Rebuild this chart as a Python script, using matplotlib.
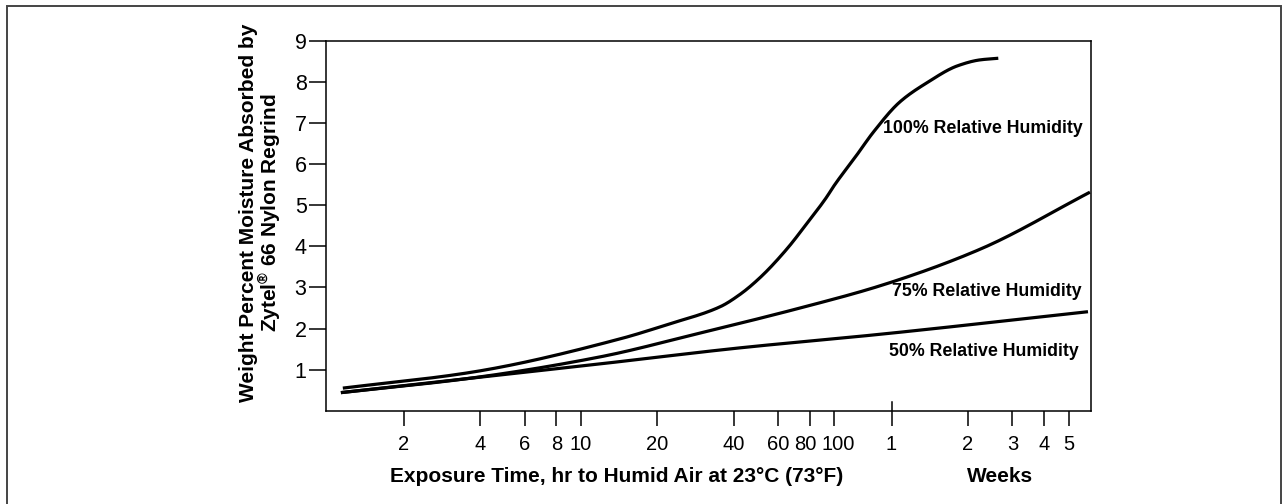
import numpy as np
import matplotlib
matplotlib.use('Agg')
import matplotlib.pyplot as plt
import matplotlib.transforms as mtransforms
from matplotlib.patches import Rectangle

plt.rcParams['font.family'] = ['Liberation Sans', 'DejaVu Sans']
plt.rcParams['mathtext.fontset'] = 'custom'
plt.rcParams['mathtext.rm'] = 'Liberation Sans:bold'

# curves (hours vs weight %)
hours_100 = [1.15, 3.65, 14.3, 22.0, 35.4, 42.4, 50.9, 64.8, 77.7, 93.2, 99.0,
             122.4, 142.4, 181.5, 231.3, 307.3, 375.0, 443.2]
moist_100 = [0.55, 0.93, 1.75, 2.10, 2.53, 2.83, 3.24, 3.93, 4.55, 5.20, 5.45,
             6.22, 6.78, 7.52, 7.98, 8.40, 8.54, 8.58]

hours_75 = [1.13, 3.65, 11.9, 29.5, 73.2, 151.3, 375.3, 1019]
moist_75 = [0.44, 0.79, 1.31, 1.89, 2.50, 3.04, 3.93, 5.32]

hours_50 = [1.13, 3.65, 11.9, 42.4, 151.3, 1001]
moist_50 = [0.44, 0.79, 1.14, 1.53, 1.86, 2.41]

hr_ticks = [2, 4, 6, 8, 10, 20, 40, 60, 80, 100]
week_ticks = [1, 2, 3, 4, 5]
y_ticks = [1, 2, 3, 4, 5, 6, 7, 8, 9]

labels = ['100% Relative Humidity', '75% Relative Humidity', '50% Relative Humidity']
label_pos = [(155.4, 6.86), (168.7, 2.91), (164.2, 1.44)]


def smooth(xs, ys, n=30):
    # monotone cubic (Fritsch-Carlson) through the read points, in log-x space
    x = np.log10(np.asarray(xs, float))
    y = np.asarray(ys, float)
    d = np.diff(y) / np.diff(x)
    m = np.zeros_like(y)
    m[0], m[-1] = d[0], d[-1]
    for i in range(1, len(y) - 1):
        if d[i - 1] * d[i] <= 0:
            m[i] = 0
        else:
            w1 = 2 * (x[i + 1] - x[i]) + (x[i] - x[i - 1])
            w2 = (x[i + 1] - x[i]) + 2 * (x[i] - x[i - 1])
            m[i] = (w1 + w2) / (w1 / d[i - 1] + w2 / d[i])
    px, py = [], []
    for i in range(len(x) - 1):
        h = x[i + 1] - x[i]
        t = np.linspace(0, 1, n, endpoint=False)
        h00 = 2 * t**3 - 3 * t**2 + 1
        h10 = t**3 - 2 * t**2 + t
        h01 = -2 * t**3 + 3 * t**2
        h11 = t**3 - t**2
        px.append(x[i] + t * h)
        py.append(h00 * y[i] + h10 * h * m[i] + h01 * y[i + 1] + h11 * h * m[i + 1])
    px.append([x[-1]])
    py.append([y[-1]])
    return 10 ** np.concatenate(px), np.concatenate(py)


fig = plt.figure(figsize=(12.85, 5.04), dpi=100)
ax = fig.add_axes([326 / 1285, 1 - 410.7 / 504, (1090.7 - 326) / 1285, (410.7 - 41) / 504])

for h, m in [(hours_100, moist_100), (hours_75, moist_75), (hours_50, moist_50)]:
    sx, sy = smooth(h, m)
    ax.plot(sx, sy, color='black', lw=2.3, solid_capstyle='butt')

ax.set_xscale('log')
ax.set_xlim(0.987, 1026)
ax.set_ylim(0, 9)

xt = hr_ticks + [w * 168 for w in week_ticks]
xl = [str(t) for t in hr_ticks] + [str(w) for w in week_ticks]
ax.set_xticks(xt)
ax.set_xticklabels(xl)
ax.xaxis.set_minor_locator(matplotlib.ticker.NullLocator())
ax.set_yticks(y_ticks)
ax.set_yticklabels([str(t) for t in y_ticks])

ax.tick_params(axis='x', direction='out', length=11, width=1.1, pad=6.5, labelsize=14.5)
ax.tick_params(axis='y', direction='out', length=12, width=1.1, pad=2, labelsize=15.5)
for s in ax.spines.values():
    s.set_linewidth(1.1)

# nudge the crowded 80 / 100 labels apart a little
for lab in ax.get_xticklabels():
    shift = {'80': -3, '100': 3}.get(lab.get_text(), 0)
    if shift:
        lab.set_transform(lab.get_transform() +
                          mtransforms.ScaledTranslation(shift / 72, 0, fig.dpi_scale_trans))

# the 1 week tick crosses the axis line
ax.axvline(168, ymin=0, ymax=0.024, color='black', lw=1.1)

for txt, (x, y) in zip(labels, label_pos):
    ax.text(x, y, txt, ha='left', va='center', fontsize=12.8, fontweight='bold')

fig.text(0.480, 0.0536, 'Exposure Time, hr to Humid Air at 23°C (73°F)',
         ha='center', va='center', fontsize=15, fontweight='bold')
fig.text(0.778, 0.0536, 'Weeks', ha='center', va='center', fontsize=15, fontweight='bold')

fig.text(248 / 1285, 0.577, 'Weight Percent Moisture Absorbed by', rotation=90,
         ha='center', va='center', fontsize=15, fontweight='bold')
fig.text(270 / 1285, 0.577, r'Zytel$^{®}$ 66 Nylon Regrind', rotation=90,
         ha='center', va='center', fontsize=15, fontweight='bold')

# outer frame
fig.patches.append(Rectangle((7 / 1285, -0.02), (1281 - 7) / 1285, 1.02 - 6 / 504,
                             transform=fig.transFigure, fill=False, edgecolor='#444444', lw=1.4))

fig.savefig('out.png', dpi=100)
